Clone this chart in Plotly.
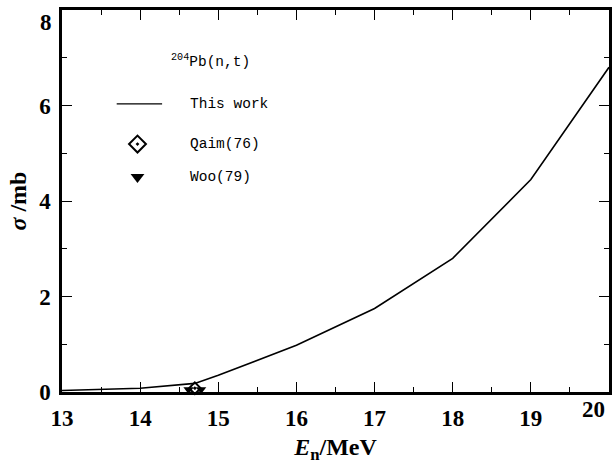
import plotly.graph_objects as go

# Calculated 204Pb(n,t) excitation function
energy = [13.0, 14.0, 14.7, 15.0, 16.0, 17.0, 18.0, 19.0, 20.0]
sigma = [0.03, 0.08, 0.18, 0.35, 0.98, 1.75, 2.80, 4.45, 6.80]

# Measured points
qaim_e = [14.7]
qaim_s = [0.08]
woo_e = [14.62, 14.78]
woo_s = [0.05, 0.05]

x_ticks = [13, 14, 15, 16, 17, 18, 19, 20]
y_ticks = [0, 2, 4, 6, 8]

serif = "Liberation Serif"
mono = "Liberation Mono"

fig = go.Figure()

fig.add_trace(go.Scatter(x=energy, y=sigma, mode="lines",
                         line=dict(color="black", width=1.6),
                         showlegend=False))
fig.add_trace(go.Scatter(x=woo_e, y=woo_s, mode="markers",
                         marker=dict(symbol="triangle-down", size=9, color="black"),
                         showlegend=False, cliponaxis=False))
fig.add_trace(go.Scatter(x=qaim_e, y=qaim_s, mode="markers",
                         marker=dict(symbol="diamond-open-dot", size=9, color="black",
                                     line=dict(width=2, color="black")),
                         showlegend=False, cliponaxis=False))

# Legend keys drawn on an overlay axis spanning the plot area (0..1)
fig.add_trace(go.Scatter(x=[0.138], y=[0.649], xaxis="x2", yaxis="y2", mode="markers",
                         marker=dict(symbol="diamond-open-dot", size=13, color="black",
                                     line=dict(width=2, color="black")),
                         showlegend=False, hoverinfo="skip"))
fig.add_trace(go.Scatter(x=[0.138], y=[0.563], xaxis="x2", yaxis="y2", mode="markers",
                         marker=dict(symbol="triangle-down", size=12, color="black"),
                         showlegend=False, hoverinfo="skip"))

fig.add_shape(type="line", xref="paper", yref="paper",
              x0=0.1, x1=0.183, y0=0.754, y1=0.754,
              line=dict(color="black", width=1.3))

legend_font = dict(family=mono, size=14.5, color="black")
fig.add_annotation(xref="paper", yref="paper", x=0.196, y=0.866, xanchor="left",
                   yanchor="middle", showarrow=False,
                   text="<sup>204</sup>Pb(n,t)", font=legend_font)
fig.add_annotation(xref="paper", yref="paper", x=0.23, y=0.754, xanchor="left",
                   yanchor="middle", showarrow=False, text="This work", font=legend_font)
fig.add_annotation(xref="paper", yref="paper", x=0.23, y=0.649, xanchor="left",
                   yanchor="middle", showarrow=False, text="Qaim(76)", font=legend_font)
fig.add_annotation(xref="paper", yref="paper", x=0.23, y=0.563, xanchor="left",
                   yanchor="middle", showarrow=False, text="Woo(79)", font=legend_font)

tick_font = dict(family=serif, size=23, color="black")

# End labels of both axes are nudged inside the frame corners
x_text = [f"<b>{v}</b>" for v in x_ticks]
last_x = x_text[-1]
x_text[-1] = ""
fig.add_annotation(x=x_ticks[-1], xref="x", y=0, yref="paper", xanchor="right",
                   yanchor="top", xshift=-2, yshift=-3, showarrow=False,
                   text=last_x, font=tick_font)

y_text = [f"<b>{v}</b>" for v in y_ticks]
last_y = y_text[-1]
y_text[-1] = ""
fig.add_annotation(x=0, xref="paper", y=y_ticks[-1], yref="y", xanchor="right",
                   yanchor="top", xshift=-8, yshift=2, showarrow=False,
                   text=last_y, font=tick_font)

axis_common = dict(showline=True, mirror="allticks", linecolor="black", linewidth=2.5,
                   ticks="inside", ticklen=10, tickwidth=1.2, tickcolor="black",
                   showgrid=False, zeroline=False, ticklabelstandoff=4,
                   ticklabeloverflow="allow", automargin=False, tickfont=tick_font)

fig.update_layout(
    width=613, height=464,
    margin=dict(l=62, r=4, t=10, b=72),
    paper_bgcolor="white", plot_bgcolor="white",
    xaxis=dict(range=[13, 20], tickvals=x_ticks, ticktext=x_text,
               minor=dict(dtick=0.5, ticks="inside", ticklen=5, tickcolor="black"),
               title=dict(text="<b><i>E</i><sub>n</sub>/MeV</b>",
                          font=dict(family=serif, size=24, color="black"), standoff=8),
               **axis_common),
    yaxis=dict(range=[0, 8], tickvals=y_ticks, ticktext=y_text,
               minor=dict(dtick=1, ticks="inside", ticklen=5, tickcolor="black"),
               title=dict(text="<b><i>σ</i> /mb</b>",
                          font=dict(family=serif, size=24, color="black"), standoff=6),
               **axis_common),
    xaxis2=dict(overlaying="x", range=[0, 1], visible=False),
    yaxis2=dict(overlaying="y", range=[0, 1], visible=False),
    showlegend=False,
)

fig.write_html("out.html")
